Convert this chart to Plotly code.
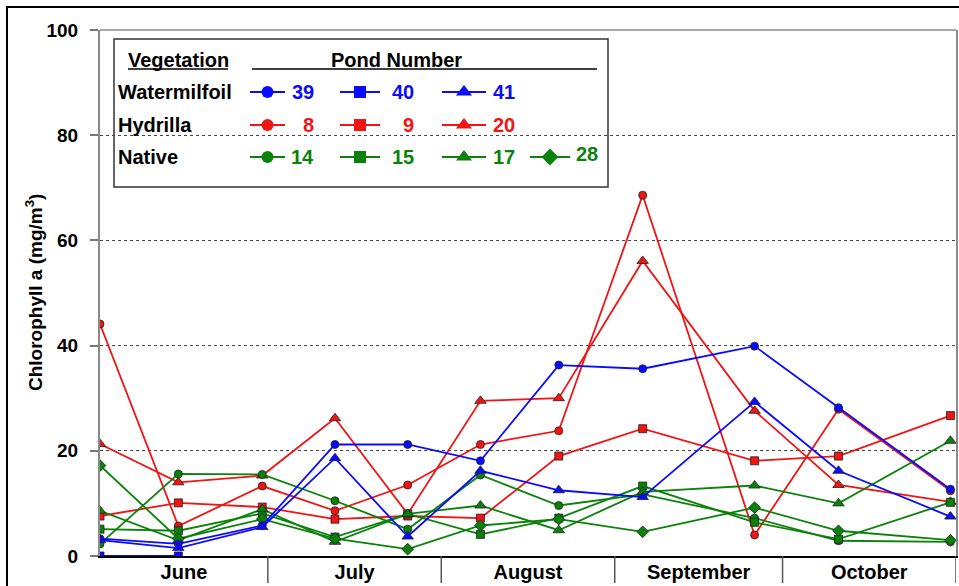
import plotly.graph_objects as go
import pandas as pd

# Sampling dates
dates = ["2000-06-01", "2000-06-15", "2000-06-30", "2000-07-13", "2000-07-26",
         "2000-08-08", "2000-08-22", "2000-09-06", "2000-09-26", "2000-10-11",
         "2000-10-31"]

# Chlorophyll a (mg/m3) by pond
# Watermilfoil ponds
pond39 = [3.3, 2.3, 5.8, 21.2, 21.2, 18.1, 36.3, 35.6, 39.9, 28.2, 12.7]
pond40 = [0.0, 0.0, None, None, None, None, None, None, None, None, None]
pond41 = [3.0, 1.5, 5.5, 18.6, 3.7, 16.2, 12.5, 11.2, 29.3, 16.2, 7.5]
# Hydrilla ponds
pond8 = [44.1, 5.7, 13.3, 8.6, 13.5, 21.2, 23.8, 68.6, 4.0, 27.9, 12.4]
pond9 = [7.6, 10.1, 9.3, 7.0, 7.6, 7.2, 19.0, 24.2, 18.1, 19.0, 26.7]
pond20 = [21.3, 14.0, 15.3, 26.2, 8.0, 29.5, 30.0, 56.1, 27.6, 13.5, 10.3]
# Native vegetation ponds
pond14 = [2.3, 15.6, 15.5, 10.5, 5.1, 15.4, 9.6, 11.7, 7.2, 2.9, 2.7]
pond15 = [5.1, 4.8, 8.1, 3.6, 8.0, 4.1, 7.2, 13.3, 6.4, 3.2, 10.2]
pond17 = [8.6, 3.0, 8.9, 2.7, 8.0, 9.6, 4.9, 12.2, 13.4, 10.0, 21.9]
pond28 = [17.2, 3.3, 7.0, 3.3, 1.3, 5.8, 7.0, 4.6, 9.2, 4.8, 3.0]

y_ticks = [0, 20, 40, 60, 80, 100]

BLUE = "#0a0aff"
RED = "#f01414"
GREEN = "#0a820a"
FONT = "Arial, Liberation Sans, sans-serif"

SYM = {"circle": 8, "square": 8, "triangle-up": 10, "diamond": 9}

groups = [
    ("Watermilfoil", BLUE, [("39", pond39, "circle"), ("40", pond40, "square"),
                            ("41", pond41, "triangle-up")]),
    ("Hydrilla", RED, [("8", pond8, "circle"), ("9", pond9, "square"),
                       ("20", pond20, "triangle-up")]),
    ("Native", GREEN, [("14", pond14, "circle"), ("15", pond15, "square"),
                       ("17", pond17, "triangle-up"), ("28", pond28, "diamond")]),
]

fig = go.Figure()

# data lines: hydrilla, native, then watermilfoil on top
for gi in (1, 2, 0):
    name, color, ponds = groups[gi]
    for label, vals, sym in ponds:
        fig.add_trace(go.Scatter(
            x=dates, y=vals, mode="lines+markers", name=f"{name} {label}",
            line=dict(color=color, width=1.8),
            marker=dict(symbol=sym, size=SYM[sym], color=color,
                        line=dict(color="#202020", width=0.8)),
            showlegend=False, connectgaps=False,
        ))

# plot geometry (pixels)
W, H = 959, 586
L, R, T, B = 100, 956, 30, 556


def fx(px):
    return (px - L) / (R - L)


def fy(py):
    return (B - py) / (B - T)


shapes = []
annotations = []

# outer frame
shapes.append(dict(type="rect", xref="paper", yref="paper",
                   x0=fx(7), x1=fx(1100), y0=fy(800), y1=fy(7),
                   line=dict(color="black", width=2), layer="above"))
# top border of plot
shapes.append(dict(type="line", xref="paper", yref="paper", x0=0, x1=1,
                   y0=1, y1=1, line=dict(color="#8a8a8a", width=1.5)))

# month separators below the axis
bounds = pd.date_range("2000-07-01", "2000-11-01", freq="MS")
for d in bounds:
    shapes.append(dict(type="line", xref="x", yref="paper",
                       x0=d, x1=d, y0=0, y1=fy(583),
                       line=dict(color="#555555", width=1.5)))

# key box
shapes.append(dict(type="rect", xref="paper", yref="paper",
                   x0=fx(114), x1=fx(608), y0=fy(187), y1=fy(39),
                   line=dict(color="#333333", width=1.5), fillcolor="white",
                   layer="between"))
shapes.append(dict(type="line", xref="paper", yref="paper",
                   x0=fx(128), x1=fx(228), y0=fy(69), y1=fy(69),
                   line=dict(color="black", width=1.5)))
shapes.append(dict(type="line", xref="paper", yref="paper",
                   x0=fx(252), x1=fx(597), y0=fy(69), y1=fy(69),
                   line=dict(color="black", width=1.5)))

KEY_SIZE = 20
bold = dict(family=FONT, size=KEY_SIZE, color="black", weight="bold")
annotations.append(dict(text="Vegetation", xref="paper", yref="paper",
                        x=fx(178), y=fy(60), showarrow=False,
                        xanchor="center", yanchor="middle", font=bold))
annotations.append(dict(text="Pond Number", xref="paper", yref="paper",
                        x=fx(396), y=fy(60), showarrow=False,
                        xanchor="center", yanchor="middle", font=bold))

row_y = [92, 125, 157]
col_line = [(250, 285), (340, 380), (442, 486), (530, 570)]
col_text = [316, 416, 517, 600]

for (name, color, ponds), ry in zip(groups, row_y):
    annotations.append(dict(text=name, xref="paper", yref="paper",
                            x=fx(116), y=fy(ry), showarrow=False,
                            xanchor="left", yanchor="middle", font=bold))
    for ci, (label, vals, sym) in enumerate(ponds):
        x0, x1 = col_line[ci]
        ty = ry - 3 if ci == 3 else ry
        fig.add_trace(go.Scatter(
            x=[x0, (x0 + x1) / 2, x1], y=[ry, ry, ry], xaxis="x2", yaxis="y2",
            mode="lines", line=dict(color=color, width=2),
            showlegend=False, hoverinfo="skip"))
        fig.add_trace(go.Scatter(
            x=[(x0 + x1) / 2], y=[ry], xaxis="x2", yaxis="y2",
            mode="markers",
            marker=dict(symbol=sym, size=SYM[sym] + 4, color=color),
            showlegend=False, hoverinfo="skip"))
        annotations.append(dict(text=label, xref="paper", yref="paper",
                                x=fx(col_text[ci]), y=fy(ty), showarrow=False,
                                xanchor="right", yanchor="middle",
                                font=dict(family=FONT, size=KEY_SIZE,
                                          color=color, weight="bold")))

# y-axis title
annotations.append(dict(text="Chlorophyll a (mg/m<sup>3</sup>)", xref="paper",
                        yref="paper", x=fx(34), y=0.5, textangle=-90,
                        showarrow=False, xanchor="center", yanchor="middle",
                        font=dict(family=FONT, size=19, color="black",
                                  weight="bold")))

fig.update_layout(
    width=W, height=H,
    margin=dict(l=L, r=W - R, t=T, b=H - B, autoexpand=False),
    paper_bgcolor="white", plot_bgcolor="white",
    shapes=shapes, annotations=annotations,
    xaxis=dict(type="date", range=["2000-06-01", "2000-11-01"],
               tick0="2000-06-01", dtick="M1", tickformat="%B",
               ticklabelmode="period", ticks="", showgrid=False,
               showline=True, linecolor="black", linewidth=1.5,
               zeroline=False, ticklabelstandoff=-3, automargin=False,
               tickfont=dict(family=FONT, size=20, color="black",
                             weight="bold")),
    yaxis=dict(range=[0, 100], tickvals=y_ticks, ticks="outside", ticklen=8,
               tickcolor="#777777", tickwidth=1.5, automargin=False,
               showline=True, linecolor="#8a8a8a", linewidth=2, mirror=True,
               showgrid=True, gridcolor="#444444", gridwidth=1,
               griddash="3px,3px", zeroline=False, ticklabelstandoff=8,
               tickfont=dict(family=FONT, size=19, color="black",
                             weight="bold")),
    xaxis2=dict(overlaying="x", range=[L, R], visible=False, anchor="y2"),
    yaxis2=dict(overlaying="y", range=[B, T], visible=False, anchor="x2"),
)

fig.write_html("out.html")
